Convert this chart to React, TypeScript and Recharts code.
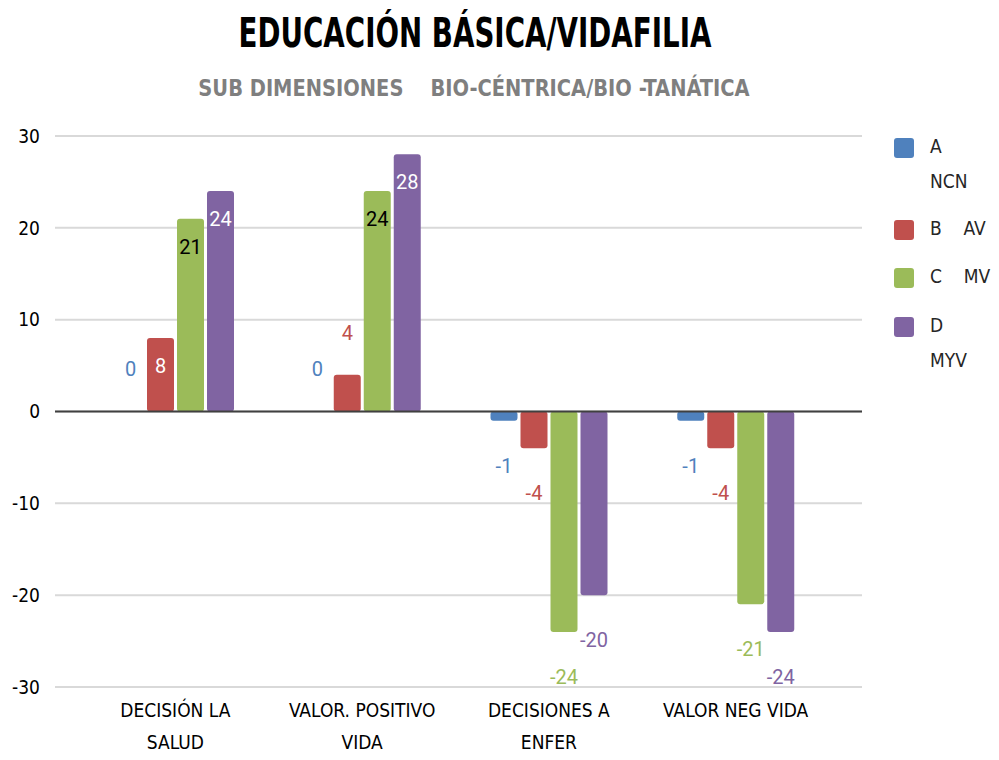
import { BarChart, Bar, XAxis, YAxis, CartesianGrid, ReferenceLine, LabelList, Cell } from "recharts";

const categories = [
  ["DECISIÓN LA", "SALUD"],
  ["VALOR. POSITIVO", "VIDA"],
  ["DECISIONES A", "ENFER"],
  ["VALOR NEG VIDA"],
];
const seriesA = [0, 0, -1, -1];
const seriesB = [8, 4, -4, -4];
const seriesC = [21, 24, -24, -21];
const seriesD = [24, 28, -20, -24];
const yTicks = [-30, -20, -10, 0, 10, 20, 30];

const legendItems = [
  { key: "A", lines: ["A", "NCN"], color: "#4F81BD" },
  { key: "B", lines: ["B    AV"], color: "#C0504D" },
  { key: "C", lines: ["C    MV"], color: "#9BBB59" },
  { key: "D", lines: ["D", "MYV"], color: "#8064A2" },
];

const data = categories.map((c, i) => ({
  name: c.join(" "),
  A: seriesA[i],
  B: seriesB[i],
  C: seriesC[i],
  D: seriesD[i],
}));

const NARROW = "'Liberation Sans Narrow', 'DejaVu Sans Condensed', sans-serif";

// tall bars get the label inside near the top, short/zero ones above, negatives below
const makeLabel = (color: string, insideColor: string) => (props: any) => {
  const { x, y, width, height, value } = props;
  const top = Math.min(y, y + height);
  const bottom = Math.max(y, y + height);
  let ty: number;
  let fill = color;
  if (value > 5) {
    ty = top + 28;
    fill = insideColor;
  } else if (value >= 0) {
    ty = top - 42;
  } else {
    ty = bottom + 45;
  }
  return (
    <text
      x={x + width / 2}
      y={ty}
      textAnchor="middle"
      dominantBaseline="central"
      fontFamily="Roboto, sans-serif"
      fontSize={20}
      fill={fill}
    >
      {value}
    </text>
  );
};

const CatTick = (props: any) => {
  const { x, y, payload } = props;
  const lines = categories[payload.index] ?? [payload.value];
  return (
    <g>
      {lines.map((l, i) => (
        <text
          key={i}
          x={x}
          y={y + 22 + i * 32}
          textAnchor="middle"
          fontFamily={NARROW}
          fontSize={19}
          fill="#000"
        >
          {l}
        </text>
      ))}
    </g>
  );
};

export default function App() {
  return (
    <div style={{ position: "absolute", left: 0, top: 0, width: 999, height: 760, background: "#fff" }}>
      <div
        style={{
          position: "absolute",
          left: 0,
          width: 950,
          top: 10,
          textAlign: "center",
          fontFamily: NARROW,
          fontWeight: 700,
          fontSize: 40,
          color: "#000",
          transform: "scaleX(0.77)",
          transformOrigin: "475px 0",
        }}
      >
        EDUCACIÓN BÁSICA/VIDAFILIA
      </div>
      <div
        style={{
          position: "absolute",
          left: 0,
          width: 948,
          top: 75,
          textAlign: "center",
          fontFamily: NARROW,
          fontWeight: 700,
          fontSize: 23,
          color: "#7F7F7F",
          whiteSpace: "pre",
          transform: "scaleX(0.94)",
          transformOrigin: "474px 0",
        }}
      >
        {"SUB DIMENSIONES    BIO-CÉNTRICA/BIO -TANÁTICA"}
      </div>

      <BarChart
        width={999}
        height={760}
        data={data}
        margin={{ top: 136, right: 137, bottom: 13, left: 0 }}
        barSize={27}
        barGap={3}
      >
        <CartesianGrid vertical={false} stroke="#D9D9D9" strokeWidth={2} />
        <XAxis
          dataKey="name"
          axisLine={false}
          tickLine={false}
          tick={<CatTick />}
          height={60}
          interval={0}
          padding={{ left: 27, right: 33 }}
        />
        <YAxis
          domain={[-30, 30]}
          ticks={yTicks}
          axisLine={false}
          tickLine={false}
          tickSize={0}
          tickMargin={15}
          width={55}
          tick={{ fontFamily: NARROW, fontSize: 19, fill: "#000" }}
        />
        <ReferenceLine y={0} stroke="#404040" strokeWidth={2} />
        {/* zero values need a 1px invisible stub so their "0" label still shows */}
        <Bar dataKey="A" fill="#4F81BD" radius={3} minPointSize={1} isAnimationActive={false}>
          {seriesA.map((v, i) => (
            <Cell key={i} fill={v === 0 ? "transparent" : "#4F81BD"} />
          ))}
          <LabelList dataKey="A" content={makeLabel("#4F81BD", "#fff")} />
        </Bar>
        <Bar dataKey="B" fill="#C0504D" radius={3} isAnimationActive={false}>
          <LabelList dataKey="B" content={makeLabel("#C0504D", "#fff")} />
        </Bar>
        <Bar dataKey="C" fill="#9BBB59" radius={3} isAnimationActive={false}>
          <LabelList dataKey="C" content={makeLabel("#9BBB59", "#000")} />
        </Bar>
        <Bar dataKey="D" fill="#8064A2" radius={3} isAnimationActive={false}>
          <LabelList dataKey="D" content={makeLabel("#8064A2", "#fff")} />
        </Bar>
      </BarChart>

      {legendItems.map((it, i) => {
        const tops = [138, 220, 268, 317];
        return (
          <div key={it.key} style={{ position: "absolute", left: 894, top: tops[i] }}>
            <div
              style={{
                position: "absolute",
                left: 0,
                top: 0,
                width: 20,
                height: 20,
                borderRadius: 3,
                background: it.color,
              }}
            />
            {it.lines.map((l, j) => (
              <div
                key={j}
                style={{
                  position: "absolute",
                  left: 36,
                  top: -3 + j * 35,
                  fontFamily: NARROW,
                  fontSize: 19,
                  color: "#262626",
                  whiteSpace: "pre",
                }}
              >
                {l}
              </div>
            ))}
          </div>
        );
      })}
    </div>
  );
}
